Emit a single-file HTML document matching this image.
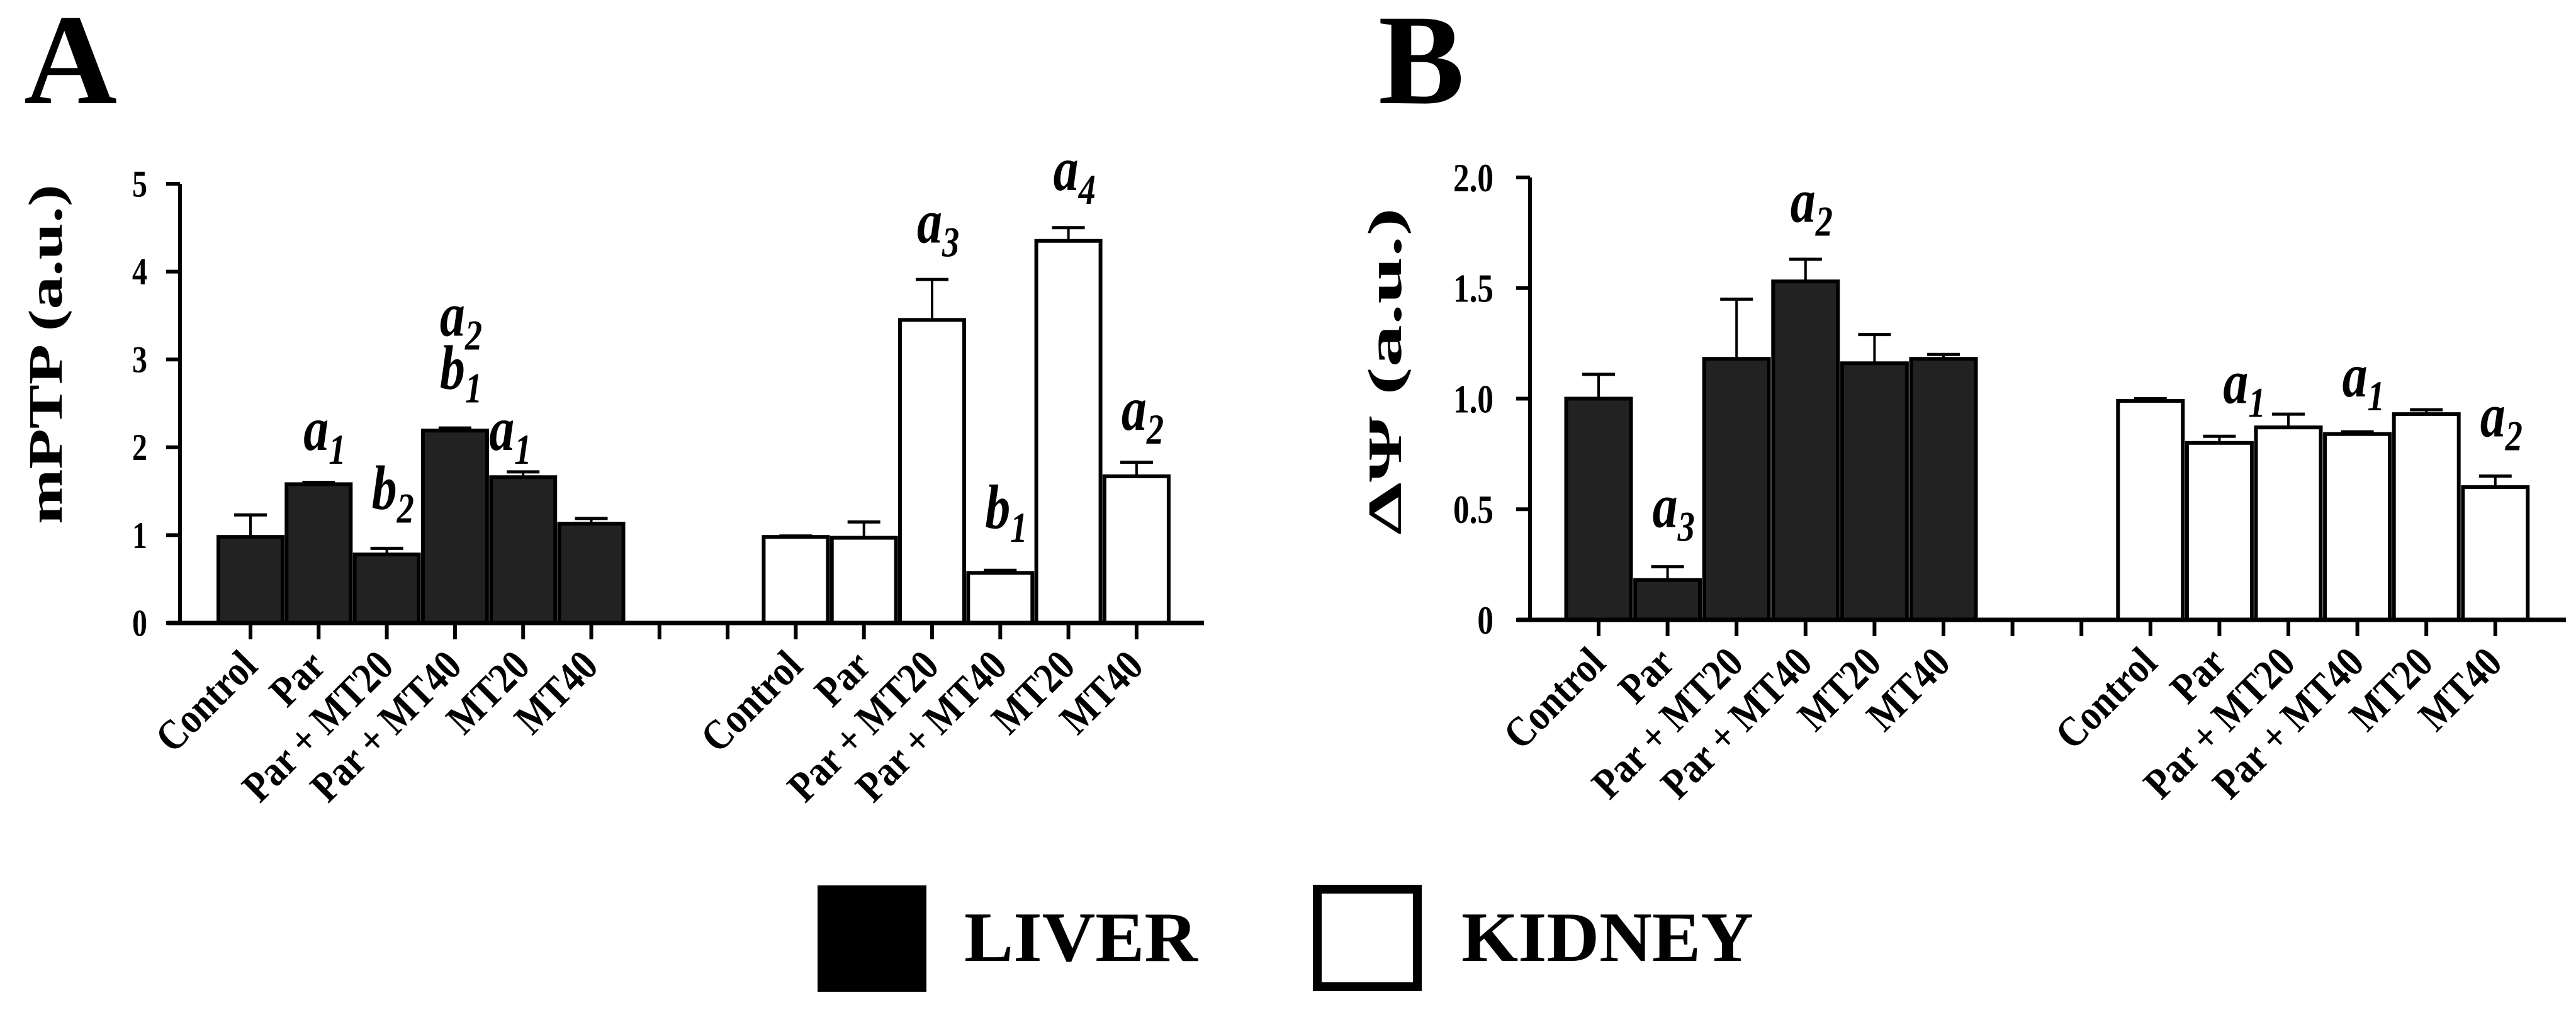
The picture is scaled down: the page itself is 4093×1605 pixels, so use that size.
<!DOCTYPE html>
<html><head><meta charset="utf-8">
<style>
html,body{margin:0;padding:0;background:#fff;}
svg{display:block;font-family:"Liberation Serif",serif;}
</style></head>
<body>
<svg id="fig" width="4093" height="1605" viewBox="0 0 4093 1605" xmlns="http://www.w3.org/2000/svg">
<rect x="0" y="0" width="4093" height="1605" fill="#fff"/>
<text x="38" y="164" font-size="205" font-weight="bold">A</text>
<text x="2190" y="164" font-size="205" font-weight="bold">B</text>
<g id="chartA"></g>
<g id="chartB"></g>
<g>
  <rect x="1299" y="1407" width="173" height="169" fill="#000"/>
  <text x="1532" y="1527" font-size="112" font-weight="bold" textLength="371" lengthAdjust="spacingAndGlyphs">LIVER</text>
  <rect x="2093" y="1413" width="159" height="155" fill="#fff" stroke="#000" stroke-width="14"/>
  <text x="2322" y="1527" font-size="112" font-weight="bold" textLength="464" lengthAdjust="spacingAndGlyphs">KIDNEY</text>
</g>
</svg>
<script>
const categories = ["Control","Par","Par + MT20","Par + MT40","MT20","MT40"];
const mptpLiver = [0.98,1.58,0.78,2.19,1.66,1.13];
const mptpLiverErr = [0.25,0.02,0.07,0.03,0.06,0.06];
const mptpKidney = [0.98,0.97,3.45,0.57,4.35,1.67];
const mptpKidneyErr = [0.01,0.18,0.46,0.03,0.15,0.16];
const mptpTicks = [0,1,2,3,4,5];
const psiLiver = [1.0,0.18,1.18,1.53,1.16,1.18];
const psiLiverErr = [0.11,0.06,0.27,0.10,0.13,0.02];
const psiKidney = [0.99,0.80,0.87,0.84,0.93,0.60];
const psiKidneyErr = [0.01,0.03,0.06,0.01,0.02,0.05];
const psiTicks = [0,0.5,1.0,1.5,2.0];
const psiTickLabels = ["0","0.5","1.0","1.5","2.0"];
// annotations: [group, index, letter, subscript, value-level, dx]
const mptpNotes = [["L",1,"a","1",1.97,0],["L",2,"b","2",1.3,0],["L",3,"a","2",3.27,0],["L",3,"b","1",2.67,0],["L",4,"a","1",1.97,-30],
  ["K",2,"a","3",4.33,0],["K",3,"b","1",1.08,0],["K",4,"a","4",4.93,0],["K",5,"a","2",2.2,0]];
const psiNotes = [["L",1,"a","3",0.42,0],["L",3,"a","2",1.8,0],["K",1,"a","1",0.98,30],["K",3,"a","1",1.01,0],["K",5,"a","2",0.83,0]];

const NS="http://www.w3.org/2000/svg";
function mk(parent,tag,attrs){const e=document.createElementNS(NS,tag);for(const k in attrs)e.setAttribute(k,attrs[k]);parent.appendChild(e);return e;}

function drawChart(cfg){
  const g=document.getElementById(cfg.id);
  const yS=v=>cfg.y0-(v-cfg.min)/(cfg.max-cfg.min)*(cfg.y0-cfg.yTop);
  const xS=i=>cfg.x0+i*cfg.step;
  let ax=mk(g,'line',{x1:cfg.axisX,y1:cfg.yTop,x2:cfg.axisX,y2:cfg.y0,stroke:'#000','stroke-width':6});
  
  
  cfg.ticks.forEach((t,i)=>{
    const y=yS(t);
    const tl=mk(g,'line',{x1:cfg.axisX-22,y1:y,x2:cfg.axisX,y2:y,stroke:'#000','stroke-width':6});
    
    
    const tx=mk(g,'text',{x:0,y:0,'font-size':cfg.tickFs,'font-weight':'bold','text-anchor':'end',transform:`translate(${cfg.axisX-cfg.tickGap},${y+cfg.tickFs*0.34}) scale(0.8,1)`});
    tx.textContent=cfg.tickLabels[i];
    
    
  });
  const yt=mk(g,'text',{x:0,y:0,'font-size':76,'font-weight':'bold','text-anchor':'middle',textLength:cfg.titleLen,lengthAdjust:'spacingAndGlyphs',transform:`translate(${cfg.titleX},${cfg.titleY}) rotate(-90)`});
  yt.textContent=cfg.title;
  
  
  const groups=[["L",cfg.liver,cfg.liverErr,0,'#222'],["K",cfg.kidney,cfg.kidneyErr,8,'#fff']];
  groups.forEach(([gk,vals,errs,off,fill])=>{
    vals.forEach((v,i)=>{
      const cx=xS(i+off), top=yS(v), et=yS(v+errs[i]);
      const el=mk(g,'line',{x1:cx,y1:top,x2:cx,y2:et,stroke:'#000','stroke-width':4});
      
      
      const ec=mk(g,'line',{x1:cx-26,y1:et,x2:cx+26,y2:et,stroke:'#000','stroke-width':5});
      
      
      const r=mk(g,'rect',{x:cx-cfg.bw/2+3,y:top,width:cfg.bw-6,height:cfg.y0-top,fill:fill,stroke:'#000','stroke-width':6});
      
      
    });
  });
  const xa=mk(g,'line',{x1:cfg.xStart,y1:cfg.y0,x2:cfg.xEnd,y2:cfg.y0,stroke:'#000','stroke-width':7});
  
  
  for(let i=0;i<14;i++){
    const t=mk(g,'line',{x1:xS(i),y1:cfg.y0,x2:xS(i),y2:cfg.y0+26,stroke:'#000','stroke-width':6});
    
    
  }
  [0,8].forEach(off=>{
    categories.forEach((c,i)=>{
      const x=xS(i+off)+14, y=cfg.y0+72;
      const t=mk(g,'text',{x:0,y:0,'font-size':68,'font-weight':'bold','text-anchor':'end',transform:`translate(${x},${y}) rotate(-45) scale(0.86,1)`});
      t.textContent=c;
      
      
    });
  });
  cfg.notes.forEach(n=>{
    const idx=n[1]+(n[0]==="K"?8:0);
    const x=xS(idx)+n[5], y=yS(n[4]);
    const t=mk(g,'text',{x:0,y:0,'font-size':100,'font-weight':'bold','font-style':'italic',transform:`translate(${x-24},${y}) scale(0.8,1)`});
    t.textContent=n[2];
    const s=mk(t,'tspan',{'font-size':68,dy:22});
    s.textContent=n[3];
    
    
  });
}
drawChart({id:'chartA',x0:398,step:108.3,bw:108,axisX:286,y0:990,yTop:292,min:0,max:5,ticks:mptpTicks,tickLabels:mptpTicks.map(String),tickFs:60,tickGap:52,
  title:'mPTP (a.u.)',titleLen:540,titleX:98,titleY:563,liver:mptpLiver,liverErr:mptpLiverErr,kidney:mptpKidney,kidneyErr:mptpKidneyErr,xStart:266,xEnd:1913,notes:mptpNotes});
drawChart({id:'chartB',x0:2540,step:109.6,bw:109,axisX:2431,y0:985,yTop:282,min:0,max:2,ticks:psiTicks,tickLabels:psiTickLabels,tickFs:64,tickGap:58,
  title:'ΔΨ (a.u.)',titleLen:520,titleX:2226,titleY:590,liver:psiLiver,liverErr:psiLiverErr,kidney:psiKidney,kidneyErr:psiKidneyErr,xStart:2410,xEnd:4077,notes:psiNotes});
</script>
</body></html>
